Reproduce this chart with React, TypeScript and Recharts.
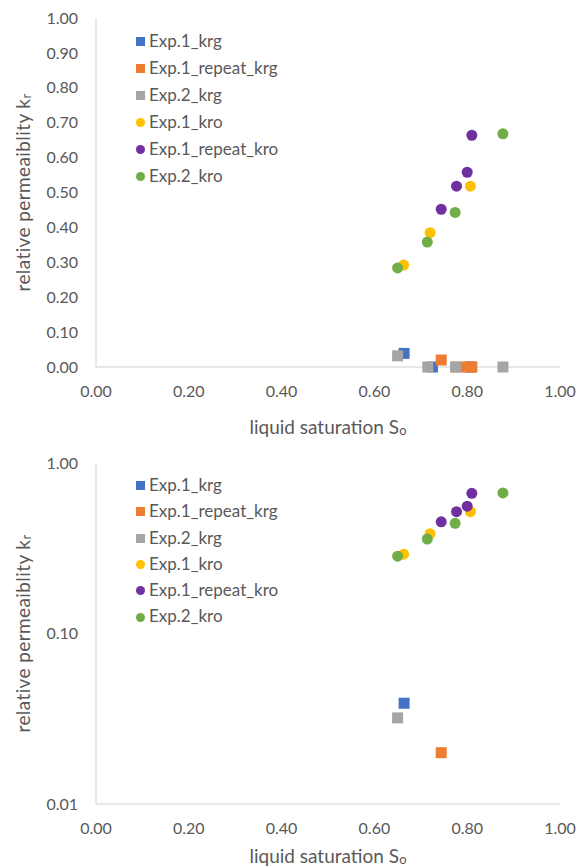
import { ScatterChart, Scatter, XAxis, YAxis, Label } from "recharts";

type Pt = { s: number; kr: number };

// gas relative permeability (krg) vs liquid saturation
const exp1Krg: Pt[] = [
  { s: 0.664, kr: 0.039 },
  { s: 0.725, kr: 0 },
  { s: 0.807, kr: 0 },
];
const exp1RepeatKrg: Pt[] = [
  { s: 0.744, kr: 0.02 },
  { s: 0.777, kr: 0 },
  { s: 0.8, kr: 0 },
  { s: 0.81, kr: 0 },
];
const exp2Krg: Pt[] = [
  { s: 0.65, kr: 0.032 },
  { s: 0.715, kr: 0 },
  { s: 0.775, kr: 0 },
  { s: 0.877, kr: 0 },
];

// oil relative permeability (kro)
const exp1Kro: Pt[] = [
  { s: 0.663, kr: 0.292 },
  { s: 0.72, kr: 0.385 },
  { s: 0.807, kr: 0.518 },
];
const exp1RepeatKro: Pt[] = [
  { s: 0.744, kr: 0.452 },
  { s: 0.777, kr: 0.518 },
  { s: 0.8, kr: 0.558 },
  { s: 0.81, kr: 0.664 },
];
const exp2Kro: Pt[] = [
  { s: 0.65, kr: 0.284 },
  { s: 0.714, kr: 0.358 },
  { s: 0.774, kr: 0.443 },
  { s: 0.877, kr: 0.668 },
];

const xTicks = [0, 0.2, 0.4, 0.6, 0.8, 1];
const linTicks = [0, 0.1, 0.2, 0.3, 0.4, 0.5, 0.6, 0.7, 0.8, 0.9, 1];
const logTicks = [0.01, 0.1, 1];

const series = [
  { name: "Exp.1_krg", data: exp1Krg, color: "#4472C4", square: true },
  { name: "Exp.1_repeat_krg", data: exp1RepeatKrg, color: "#ED7D31", square: true },
  { name: "Exp.2_krg", data: exp2Krg, color: "#A5A5A5", square: true },
  { name: "Exp.1_kro", data: exp1Kro, color: "#FFC000", square: false },
  { name: "Exp.1_repeat_kro", data: exp1RepeatKro, color: "#7030A0", square: false },
  { name: "Exp.2_kro", data: exp2Kro, color: "#70AD47", square: false },
];

const FONT = "Lato, 'Open Sans', sans-serif";
const TEXT = "#595959";
const AXIS = "#D0D0D0";

const markerShape = (color: string, square: boolean) => (p: any) =>
  square ? (
    <rect x={p.cx - 5.5} y={p.cy - 5.5} width={11} height={11} fill={color} />
  ) : (
    <circle cx={p.cx} cy={p.cy} r={5.5} fill={color} />
  );

// legend drawn as an overlay inside the plot area
function SeriesLegend({ top, left, rowH }: { top: number; left: number; rowH: number }) {
  return (
    <div style={{ position: "absolute", top, left, fontFamily: FONT, fontSize: 17, color: TEXT }}>
      {series.map((s) => (
        <div key={s.name} style={{ height: rowH, lineHeight: `${rowH}px`, whiteSpace: "nowrap" }}>
          <svg width={9} height={9} style={{ verticalAlign: "middle", marginRight: 4, marginTop: -2 }}>
            {s.square ? (
              <rect width={9} height={9} fill={s.color} />
            ) : (
              <circle cx={4.5} cy={4.5} r={4.5} fill={s.color} />
            )}
          </svg>
          {s.name}
        </div>
      ))}
    </div>
  );
}

const yTitle = (props: any) => {
  const vb = props.viewBox;
  const x = 22;
  const y = vb.y + vb.height / 2;
  return (
    <text
      x={x}
      y={y}
      transform={`rotate(-90, ${x}, ${y})`}
      textAnchor="middle"
      dominantBaseline="central"
      fill={TEXT}
      fontSize={19}
      letterSpacing={0.4}
      fontFamily={FONT}
    >
      relative permeaiblity k
      <tspan fontSize={13} dy={4}>r</tspan>
    </text>
  );
};

const xTitle = (offset: number) => (props: any) => {
  const vb = props.viewBox;
  const x = vb.x + vb.width / 2;
  const y = vb.y + offset;
  return (
    <text x={x} y={y} textAnchor="middle" dominantBaseline="central" fill={TEXT} fontSize={19} fontFamily={FONT}>
      liquid saturation S
      <tspan fontSize={13} dy={4}>o</tspan>
    </text>
  );
};

const tickStyle = { fill: TEXT, fontSize: 16, fontFamily: FONT };
const fmt = (v: number) => v.toFixed(2);

export default function App() {
  return (
    <div style={{ position: "absolute", left: 0, top: 0, width: 578, height: 866, background: "#fff" }}>
      <div style={{ position: "relative", width: 578, height: 440 }}>
        <ScatterChart width={578} height={440} margin={{ top: 18, right: 18, bottom: 0, left: 0 }}>
          <XAxis
            type="number"
            dataKey="s"
            domain={[0, 1]}
            ticks={xTicks}
            tickFormatter={fmt}
            tickLine={false}
            tickSize={0}
            tickMargin={19}
            stroke={AXIS}
            tick={tickStyle}
            height={73}
          >
            <Label content={xTitle(59)} />
          </XAxis>
          <YAxis
            type="number"
            dataKey="kr"
            domain={[0, 1]}
            ticks={linTicks}
            tickFormatter={fmt}
            tickLine={false}
            tickSize={0}
            tickMargin={18}
            stroke={AXIS}
            tick={tickStyle}
            width={96}
            interval={0}
          >
            <Label content={yTitle} />
          </YAxis>
          {series.map((s) => (
            <Scatter
              key={s.name}
              name={s.name}
              data={s.data}
              fill={s.color}
              shape={markerShape(s.color, s.square)}
              isAnimationActive={false}
            />
          ))}
        </ScatterChart>
        <SeriesLegend top={27} left={136} rowH={27} />
      </div>
      <div style={{ position: "relative", width: 578, height: 426 }}>
        <ScatterChart width={578} height={426} margin={{ top: 23, right: 18, bottom: 0, left: 0 }}>
          <XAxis
            type="number"
            dataKey="s"
            domain={[0, 1]}
            ticks={xTicks}
            tickFormatter={fmt}
            tickLine={false}
            tickSize={0}
            tickMargin={19}
            stroke={AXIS}
            tick={tickStyle}
            height={62}
          >
            <Label content={xTitle(51)} />
          </XAxis>
          <YAxis
            type="number"
            dataKey="kr"
            scale="log"
            domain={[0.01, 1]}
            ticks={logTicks}
            allowDataOverflow
            tickFormatter={fmt}
            tickLine={false}
            tickSize={0}
            tickMargin={18}
            stroke={AXIS}
            tick={tickStyle}
            width={96}
            interval={0}
          >
            <Label content={yTitle} />
          </YAxis>
          {series.map((s) => (
            <Scatter
              key={s.name}
              name={s.name}
              data={s.data.filter((d) => d.kr > 0)}
              fill={s.color}
              shape={markerShape(s.color, s.square)}
              isAnimationActive={false}
            />
          ))}
        </ScatterChart>
        <SeriesLegend top={32} left={136} rowH={26.3} />
      </div>
    </div>
  );
}
